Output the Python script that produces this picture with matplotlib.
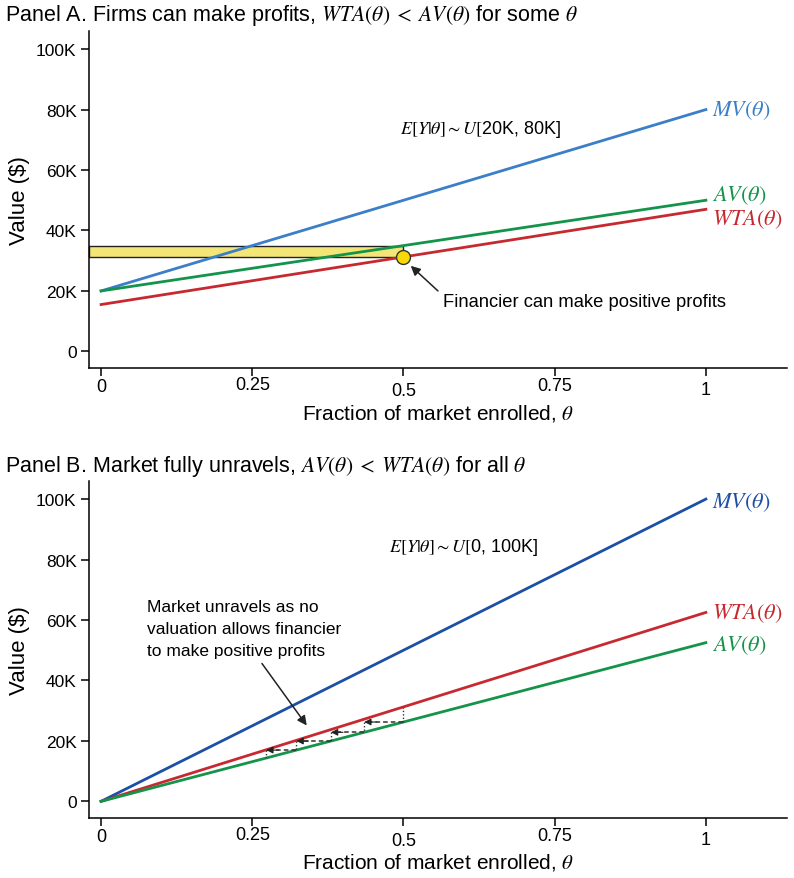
import numpy as np
import matplotlib
matplotlib.use("Agg")
import matplotlib.pyplot as plt
from matplotlib.transforms import ScaledTranslation

plt.rcParams["font.family"] = ["Liberation Sans", "DejaVu Sans"]
plt.rcParams["mathtext.fontset"] = "stix"

# ---- data (values in $K) ----
theta_ends = [0.0, 1.0]

# Panel A
mv_a = [20, 80]
av_a = [20, 50]
wta_a = [15.5, 47]
point_theta_a = 0.5

# Panel B
mv_b = [0, 100]
wta_b = [0, 62.5]
av_b = [0, 52.5]
stair_theta_b = [0.5, 0.435, 0.38, 0.323, 0.273]

xticks = [0, 0.25, 0.5, 0.75, 1]
xticklabels = ["0", "0.25", "0.5", "0.75", "1"]
yticks = [0, 20, 40, 60, 80, 100]
yticklabels = ["0", "20K", "40K", "60K", "80K", "100K"]

BLUE_A = "#3a7fc8"
BLUE_B = "#1c4fa6"
GREEN = "#14944a"
RED = "#c62a30"


def lin(vals, t):
    return vals[0] + (vals[1] - vals[0]) * t


def style_axes(ax):
    ax.set_xlim(-0.02, 1.134)
    ax.set_ylim(-5.5, 106)
    for s in ("top", "right"):
        ax.spines[s].set_visible(False)
    for s in ("left", "bottom"):
        ax.spines[s].set_linewidth(1.1)
    ax.set_xticks(xticks)
    ax.set_xticklabels(xticklabels)
    ax.set_yticks(yticks)
    ax.set_yticklabels(yticklabels)
    ax.tick_params(direction="out", length=6, width=1.1, labelsize=12.5, pad=3)
    ax.tick_params(axis="x", labelsize=13, pad=1)
    # the original tick labels sit at slightly uneven heights
    for lab, dy in zip(ax.get_xticklabels(), [0, 2, -4, 1, -3]):
        lab.set_transform(lab.get_transform() + ScaledTranslation(0, dy / 100, fig.dpi_scale_trans))
    ax.set_xlabel(r"Fraction of market enrolled, $\theta$", fontsize=15, labelpad=2)
    ax.set_ylabel(r"Value (\$)", fontsize=16, labelpad=4)


fig = plt.figure(figsize=(7.94, 8.79), dpi=100)
axA = fig.add_axes([0.1121, 0.5802, 0.879, 0.3834])
axB = fig.add_axes([0.1121, 0.0683, 0.879, 0.3834])

lab_kw = dict(fontsize=16, ha="left", va="center", clip_on=False)
arrow_kw = dict(arrowstyle="-|>", color="#222222", lw=1.1, mutation_scale=14, shrinkA=0, shrinkB=0)

# ---------------- Panel A ----------------
ax = axA
style_axes(ax)
t0 = point_theta_a
av_pt = lin(av_a, t0)
wta_pt = lin(wta_a, t0)
ax.fill_between([-0.02, t0], [wta_pt, wta_pt], [av_pt, av_pt],
                facecolor="#f4e676", edgecolor="#222222", lw=1.0, zorder=1, clip_on=False)
ax.plot(theta_ends, mv_a, color=BLUE_A, lw=2.0, zorder=2)
ax.plot(theta_ends, av_a, color=GREEN, lw=2.0, zorder=2)
ax.plot(theta_ends, wta_a, color=RED, lw=2.0, zorder=2)
ax.plot([t0], [wta_pt], "o", ms=10, mfc="#f5d90a", mec="#333333", mew=1.0, zorder=4)

ax.text(1.01, mv_a[1], r"$MV(\theta)$", color=BLUE_A, **lab_kw)
ax.text(1.01, av_a[1] + 1.7, r"$AV(\theta)$", color=GREEN, **lab_kw)
ax.text(1.01, wta_a[1] - 3.0, r"$WTA(\theta)$", color=RED, **lab_kw)

ax.text(0.627, 73.7, r"$E[Y|\theta]{\sim}U[$20K, 80K]", fontsize=13, ha="center", va="center")
ax.text(0.565, 16.4, "Financier can make positive profits", fontsize=13.2, ha="left", va="center")
ax.annotate("", xy=(0.512, 28.3), xytext=(0.557, 20.0), arrowprops=arrow_kw)

# ---------------- Panel B ----------------
ax = axB
style_axes(ax)
ax.plot(theta_ends, mv_b, color=BLUE_B, lw=2.0, zorder=2)
ax.plot(theta_ends, wta_b, color=RED, lw=2.0, zorder=2)
ax.plot(theta_ends, av_b, color=GREEN, lw=2.0, zorder=2)

ax.text(1.01, mv_b[1] - 1.0, r"$MV(\theta)$", color=BLUE_B, **lab_kw)
ax.text(1.01, wta_b[1], r"$WTA(\theta)$", color=RED, **lab_kw)
ax.text(1.01, av_b[1] - 0.7, r"$AV(\theta)$", color=GREEN, **lab_kw)

# unravelling staircase
s0 = stair_theta_b[0]
ax.plot([s0, s0], [lin(av_b, s0), lin(wta_b, s0)], ls=(0, (1, 1.5)), color="#333333", lw=1.0, zorder=3)
for a, b in zip(stair_theta_b[:-1], stair_theta_b[1:]):
    y = lin(av_b, a)
    ax.plot([a, b + 0.012], [y, y], ls=(0, (3, 2)), color="#333333", lw=1.1, zorder=3)
    ax.annotate("", xy=(b, y), xytext=(b + 0.02, y),
                arrowprops=dict(arrowstyle="-|>", color="#222222", lw=0.8,
                                mutation_scale=10, shrinkA=0, shrinkB=0), zorder=4)
    ax.plot([b, b], [y, lin(av_b, b)], ls=(0, (1, 1.5)), color="#333333", lw=1.0, zorder=3)

ax.text(0.6, 84.3, r"$E[Y|\theta]{\sim}U[$0, 100K]", fontsize=13, ha="center", va="center")
ax.text(0.076, 57.2, "Market unravels as no\nvaluation allows financier\nto make positive profits",
        fontsize=12.5, ha="left", va="center", linespacing=1.6)
ax.annotate("", xy=(0.34, 25.1), xytext=(0.266, 45.6), arrowprops=arrow_kw)

# panel titles
fig.text(0.006, 1 - 15 / 879,
         r"Panel A. Firms can make profits, $WTA(\theta)\;<\;AV(\theta)$ for some $\theta$",
         fontsize=15.5, ha="left", va="center")
fig.text(0.006, 1 - 467 / 879,
         r"Panel B. Market fully unravels, $AV(\theta)\;<\;WTA(\theta)$ for all $\theta$",
         fontsize=15.5, ha="left", va="center")

fig.savefig("out.png", dpi=100)
